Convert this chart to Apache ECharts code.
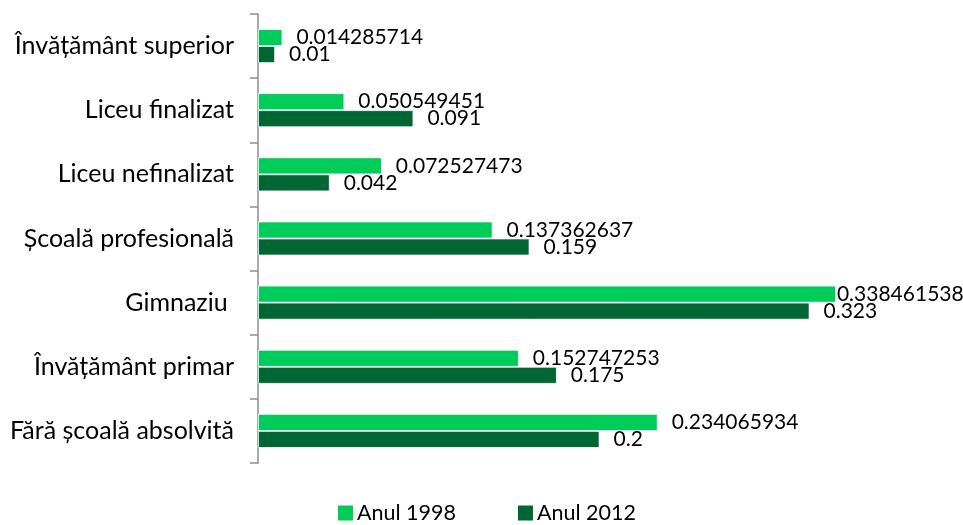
<!DOCTYPE html>
<html><head><meta charset="utf-8">
<script src="https://cdn.jsdelivr.net/npm/echarts@6/dist/echarts.min.js"></script>
<style>html,body{margin:0;padding:0;background:#fff}#c{width:963px;height:525px}</style>
</head><body><div id="c"></div>
<script>
const categories = ['Fără școală absolvită','Învățământ primar','Gimnaziu ','Școală profesională','Liceu nefinalizat','Liceu finalizat','Învățământ superior'];
const series1998 = [0.234065934, 0.152747253, 0.338461538, 0.137362637, 0.072527473, 0.050549451, 0.014285714];
const series2012 = [0.2, 0.175, 0.323, 0.159, 0.042, 0.091, 0.01];
const seriesNames = ['Anul 1998','Anul 2012'];
const FONT = 'Lato';
const chart = echarts.init(document.getElementById('c'));
const lbl = {show:true, position:'right', distance:14, color:'#000', fontFamily:FONT, fontSize:21, formatter: p => String(p.value)};
const maxVal = Math.max(...series1998, ...series2012);
const mk = arr => arr.map(v => v === maxVal ? {value:v, label:{distance:1}} : v);
chart.setOption({
  animation:false,
  grid:{left:258, right:22, top:14, bottom:62, containLabel:false},
  legend:{top:497, left:333, itemWidth:15, itemHeight:15, itemGap:62, itemStyle:{borderWidth:0}, icon:'rect',
    textStyle:{fontFamily:FONT, fontSize:21.5, color:'#000', padding:[0,0,0,-1]}, data:seriesNames},
  xAxis:{type:'value', min:0, max:0.4, show:false},
  yAxis:{type:'category', data:categories,
    axisLine:{lineStyle:{color:'#8c8c8c', width:1.5}},
    axisTick:{show:true, length:8, lineStyle:{color:'#8c8c8c', width:1.5}},
    axisLabel:{fontFamily:FONT, fontSize:25, color:'#000', margin:24}},
  series:[
    {name:seriesNames[0], type:'bar', data:mk(series1998), barWidth:17, barGap:'0%',
      itemStyle:{color:'#00CC5A', borderColor:'#fff', borderWidth:0.8}, label:lbl},
    {name:seriesNames[1], type:'bar', data:mk(series2012), barWidth:17, barGap:'0%',
      itemStyle:{color:'#006633', borderColor:'#fff', borderWidth:0.8}, label:lbl}
  ]
});
</script></body></html>
